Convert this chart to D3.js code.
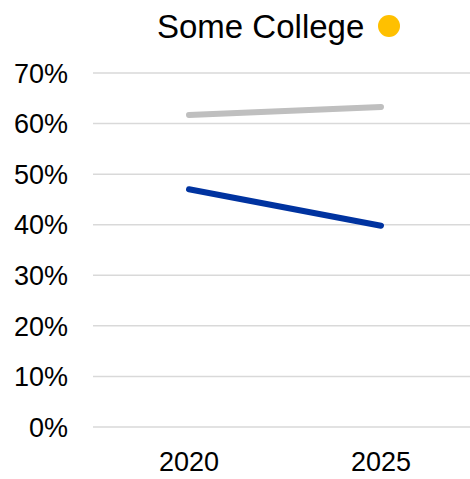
<!DOCTYPE html>
<html><head><meta charset="utf-8">
<script src="https://cdn.jsdelivr.net/npm/d3@7"></script>
<style>body{margin:0;background:#fff}svg{display:block}</style>
</head><body>
<script>
const categories = ["2020", "2025"];
const grayValues = [0.617, 0.633];
const blueValues = [0.470, 0.398];
const yTicks = [0, 0.1, 0.2, 0.3, 0.4, 0.5, 0.6, 0.7];
const title = "Some College";

const W = 470, H = 479;
const svg = d3.select("body").append("svg").attr("width", W).attr("height", H);
const font = "Liberation Sans, Arial, sans-serif";

const x = d3.scaleBand().domain(categories).range([93, 477]);
const y = d3.scaleLinear().domain([0, 0.7]).range([427, 73]);

// gridlines
svg.append("g").selectAll("line").data(yTicks).join("line")
  .attr("x1", 93).attr("x2", 470)
  .attr("y1", d => y(d)).attr("y2", d => y(d))
  .attr("stroke", "#d9d9d9").attr("stroke-width", 1.5);

// y labels
svg.append("g").selectAll("text").data(yTicks).join("text")
  .attr("x", 68).attr("y", d => y(d)).attr("dy", "0.36em")
  .attr("text-anchor", "end").attr("font-family", font).attr("font-size", 27)
  .attr("fill", "#000").text(d => d3.format(".0%")(d));

// x labels
svg.append("g").selectAll("text").data(categories).join("text")
  .attr("x", d => x(d) + x.bandwidth() / 2).attr("y", 471)
  .attr("text-anchor", "middle").attr("font-family", font).attr("font-size", 27)
  .attr("fill", "#000").text(d => d);

const line = d3.line().x((d, i) => x(categories[i]) + x.bandwidth() / 2).y(d => y(d));
svg.append("path").datum(grayValues).attr("d", line)
  .attr("fill", "none").attr("stroke", "#bfbfbf").attr("stroke-width", 6).attr("stroke-linecap", "round");
svg.append("path").datum(blueValues).attr("d", line)
  .attr("fill", "none").attr("stroke", "#0033a0").attr("stroke-width", 6).attr("stroke-linecap", "round");

// title
svg.append("text").attr("x", 157).attr("y", 38).attr("font-family", font).attr("font-size", 33)
  .attr("fill", "#000").text(title);
svg.append("circle").attr("cx", 389).attr("cy", 26).attr("r", 11).attr("fill", "#ffc000");
</script>
</body></html>
